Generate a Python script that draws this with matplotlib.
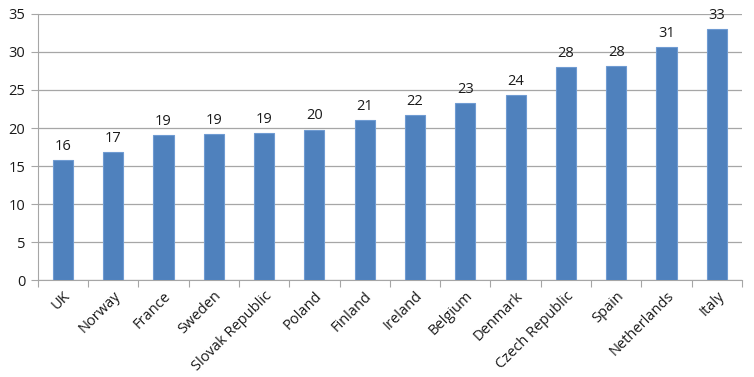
import numpy as np
import matplotlib.pyplot as plt

countries = ["UK", "Norway", "France", "Sweden", "Slovak Republic", "Poland",
             "Finland", "Ireland", "Belgium", "Denmark", "Czech Republic",
             "Spain", "Netherlands", "Italy"]
values = [15.8, 16.8, 19.1, 19.2, 19.3, 19.8, 21.0, 21.7, 23.3, 24.3,
          28.0, 28.2, 30.6, 33.0]
yticks = [0, 5, 10, 15, 20, 25, 30, 35]

plt.rcParams['font.family'] = ['Open Sans', 'DejaVu Sans']

fig = plt.figure(figsize=(7.54, 3.77), dpi=100)
ax = fig.add_axes([0.050, 0.257, 0.934, 0.706])

x = np.arange(len(countries))
bars = ax.bar(x, values, width=0.4, color='#4F81BD', edgecolor='#6F9BD2',
              linewidth=0.8, zorder=3)

for xi, v in zip(x, values):
    ax.text(xi, v + 0.8, f"{int(v + 0.5):d}", ha='center', va='bottom',
            fontsize=10.5, color='#1a1a1a')

ax.set_xlim(-0.5, len(countries) - 0.5)
ax.set_ylim(0, 35)
ax.set_yticks(yticks)
ax.set_yticklabels([str(t) for t in yticks], fontsize=10.5, color='#1a1a1a')
ax.yaxis.grid(True, color='#A6A6A6', linewidth=0.9, zorder=0)
ax.set_axisbelow(True)

# category tick marks between bars, labels at bar centers
ax.set_xticks(np.arange(len(countries) + 1) - 0.5)
ax.set_xticklabels([])
ax.set_xticks(x, minor=True)
ax.set_xticklabels(countries, minor=True, rotation=45, ha='right',
                   rotation_mode='anchor', fontsize=10.5, color='#1a1a1a')
ax.tick_params(axis='x', which='major', length=5, color='#A6A6A6')
ax.tick_params(axis='x', which='minor', length=0, pad=6)
ax.tick_params(axis='y', length=5, color='#A6A6A6', pad=4)

for side in ['top', 'right']:
    ax.spines[side].set_visible(False)
for side in ['left', 'bottom']:
    ax.spines[side].set_color('#A6A6A6')

plt.savefig("out.png", dpi=100)
